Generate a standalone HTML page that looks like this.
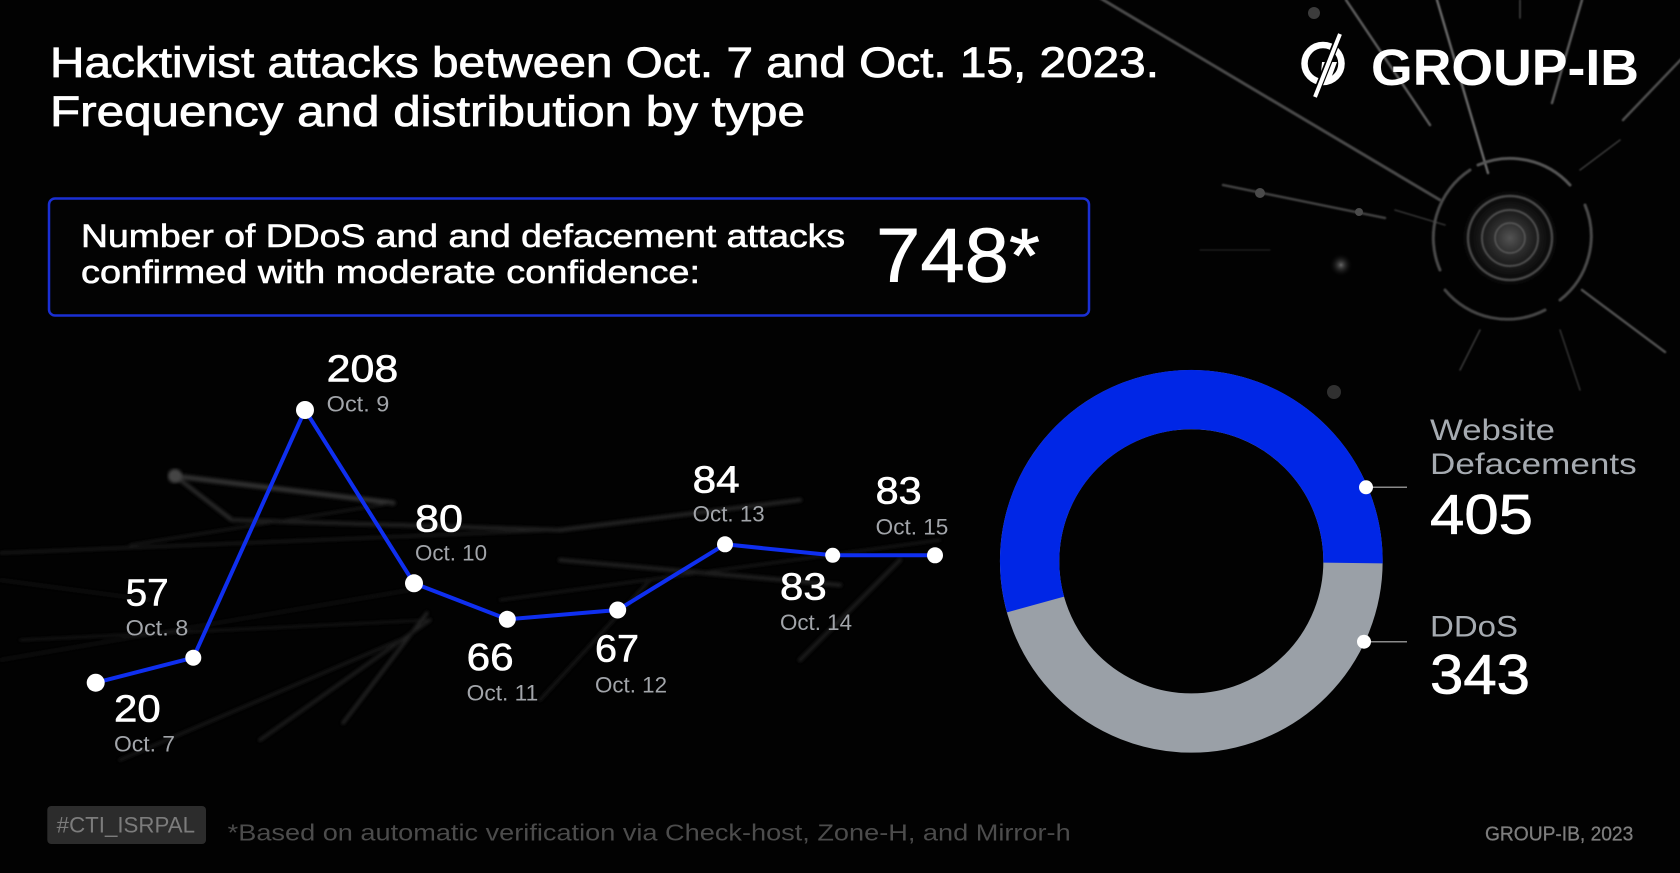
<!DOCTYPE html>
<html>
<head>
<meta charset="utf-8">
<style>
html,body{margin:0;padding:0;background:#000;}
body{width:1680px;height:873px;overflow:hidden;}
svg{display:block;}
text{font-family:"Liberation Sans","DejaVu Sans",sans-serif;}
</style>
</head>
<body>
<svg width="1680" height="873" viewBox="0 0 1680 873" xmlns="http://www.w3.org/2000/svg">
  <defs>
    <radialGradient id="glow" cx="50%" cy="50%" r="50%">
      <stop offset="0" stop-color="#8a8a8a" stop-opacity="0.6"/>
      <stop offset="0.5" stop-color="#4a4a4a" stop-opacity="0.3"/>
      <stop offset="1" stop-color="#000" stop-opacity="0"/>
    </radialGradient>
    <radialGradient id="dotglow" cx="50%" cy="50%" r="50%">
      <stop offset="0" stop-color="#666"/>
      <stop offset="1" stop-color="#000" stop-opacity="0"/>
    </radialGradient>
    <filter id="blur" x="-10%" y="-10%" width="120%" height="120%">
      <feGaussianBlur stdDeviation="1.6"/>
    </filter>
    <filter id="blur2" x="-10%" y="-10%" width="120%" height="120%">
      <feGaussianBlur stdDeviation="0.8"/>
    </filter>
  </defs>
  <rect width="1680" height="873" fill="#020202"/>

  <!-- background rays top-right -->
  <g stroke-linecap="round" fill="none" filter="url(#blur2)">
    <line x1="1100" y1="-2" x2="1440" y2="200" stroke="#4a4a4a" stroke-width="3"/>
    <line x1="1346" y1="0" x2="1430" y2="125" stroke="#5a5a5a" stroke-width="2.5"/>
    <line x1="1437" y1="0" x2="1488" y2="173" stroke="#666" stroke-width="2.5"/>
    <line x1="1582" y1="0" x2="1552" y2="103" stroke="#5a5a5a" stroke-width="2.5"/>
    <line x1="1520" y1="0" x2="1520" y2="18" stroke="#444" stroke-width="1.5"/>
    <line x1="1690" y1="50" x2="1623" y2="120" stroke="#505050" stroke-width="2.5"/>
    <line x1="1582" y1="290" x2="1665" y2="352" stroke="#505050" stroke-width="2.5"/>
    <line x1="1223" y1="185" x2="1385" y2="218" stroke="#404040" stroke-width="2.5"/>
    <line x1="1395" y1="210" x2="1445" y2="225" stroke="#333" stroke-width="1.5"/>
    <line x1="1200" y1="250" x2="1270" y2="250" stroke="#2a2a2a" stroke-width="1"/>
    <line x1="1480" y1="330" x2="1460" y2="370" stroke="#3a3a3a" stroke-width="1.5"/>
    <line x1="1560" y1="330" x2="1580" y2="390" stroke="#333" stroke-width="1.5"/>
    <line x1="1580" y1="170" x2="1620" y2="140" stroke="#3a3a3a" stroke-width="1.5"/>
  </g>
  <circle cx="1260" cy="193" r="5" fill="#4a4a4a"/>
  <circle cx="1359" cy="212" r="4" fill="#4a4a4a"/>
  <circle cx="1314" cy="13" r="6" fill="#3c3c3c"/>
  <circle cx="1341" cy="265" r="12" fill="url(#dotglow)"/>
  <circle cx="1334" cy="392" r="7" fill="#303030"/>
  <!-- rings -->
  <g fill="none" stroke-linecap="round" filter="url(#blur2)">
    <circle cx="1510" cy="238" r="60" fill="url(#glow)" stroke="none"/>
    <path d="M1440 270 A81 81 0 0 1 1470 170" stroke="#4a4a4a" stroke-width="3"/>
    <path d="M1478 165 A81 81 0 0 1 1570 185" stroke="#555" stroke-width="3"/>
    <path d="M1585 205 A81 81 0 0 1 1560 300" stroke="#4a4a4a" stroke-width="3"/>
    <path d="M1545 310 A81 81 0 0 1 1445 290" stroke="#444" stroke-width="3"/>
    <circle cx="1510" cy="238" r="42" stroke="#4a4a4a" stroke-width="2.5"/>
    <circle cx="1510" cy="238" r="28" stroke="#505050" stroke-width="2"/>
    <circle cx="1510" cy="238" r="15" stroke="#5a5a5a" stroke-width="1.5"/>
  </g>

  <!-- background network lines bottom-left -->
  <g stroke-linecap="round" fill="none" filter="url(#blur)" opacity="0.85">
    <line x1="0" y1="553" x2="560" y2="530" stroke="#262626" stroke-width="2"/>
    <line x1="175" y1="476" x2="393" y2="503" stroke="#3a3a3a" stroke-width="5"/>
    <line x1="175" y1="476" x2="232" y2="520" stroke="#333" stroke-width="4"/>
    <line x1="232" y1="520" x2="560" y2="530" stroke="#282828" stroke-width="4"/>
    <line x1="130" y1="545" x2="393" y2="503" stroke="#222" stroke-width="2"/>
    <line x1="20" y1="640" x2="430" y2="620" stroke="#262626" stroke-width="1.5"/>
    <line x1="0" y1="660" x2="410" y2="590" stroke="#202020" stroke-width="1.5"/>
    <line x1="427" y1="613" x2="343" y2="723" stroke="#2e2e2e" stroke-width="3"/>
    <line x1="430" y1="620" x2="260" y2="740" stroke="#262626" stroke-width="3"/>
    <line x1="400" y1="640" x2="120" y2="760" stroke="#1e1e1e" stroke-width="3"/>
    <line x1="560" y1="530" x2="800" y2="500" stroke="#2a2a2a" stroke-width="4"/>
    <line x1="560" y1="560" x2="840" y2="585" stroke="#262626" stroke-width="4"/>
    <line x1="500" y1="600" x2="940" y2="540" stroke="#222" stroke-width="2"/>
    <line x1="900" y1="560" x2="800" y2="660" stroke="#222" stroke-width="4"/>
    <line x1="650" y1="580" x2="540" y2="700" stroke="#1e1e1e" stroke-width="3"/>
    <line x1="0" y1="580" x2="150" y2="600" stroke="#1c1c1c" stroke-width="2"/>
  </g>
  <circle cx="175" cy="476" r="7" fill="#444" filter="url(#blur)"/>

  <!-- Title -->
  <g fill="#ffffff" stroke="#ffffff" stroke-width="0.8">
    <text x="50" y="77" font-size="43" textLength="1109" lengthAdjust="spacingAndGlyphs">Hacktivist attacks between Oct. 7 and Oct. 15, 2023.</text>
    <text x="50" y="126" font-size="43" textLength="755" lengthAdjust="spacingAndGlyphs">Frequency and distribution by type</text>
  </g>

  <!-- Logo -->
  <g>
    <circle cx="1323" cy="63.5" r="18.5" fill="none" stroke="#fff" stroke-width="6.5"/>
    <path d="M1322 62 L1337 62 L1329 84 L1320 84 Z" fill="#fff"/>
    <line x1="1339" y1="36" x2="1315" y2="96" stroke="#000" stroke-width="7"/>
    <line x1="1340" y1="34" x2="1315" y2="97" stroke="#fff" stroke-width="4"/>
    <text x="1371" y="85" font-size="51" font-weight="bold" fill="#fff" textLength="268" lengthAdjust="spacingAndGlyphs">GROUP-IB</text>
  </g>

  <!-- Summary box -->
  <rect x="49" y="198.5" width="1040" height="117" rx="6" ry="6" fill="#030303" stroke="#1a2fd4" stroke-width="2.5"/>
  <g fill="#fff" stroke="#fff" stroke-width="0.6">
    <text x="81" y="247" font-size="32" textLength="764" lengthAdjust="spacingAndGlyphs">Number of DDoS and and defacement attacks</text>
    <text x="81" y="283" font-size="32" textLength="619" lengthAdjust="spacingAndGlyphs">confirmed with moderate confidence:</text>
    <text x="876" y="282" font-size="77" textLength="164" lengthAdjust="spacingAndGlyphs">748*</text>
  </g>

  <!-- Line chart -->
  <polyline points="95.7,682.7 193.3,657.7 305,410 414,583.3 507.3,619.3 617.7,610 725,544.3 832.7,555.3 935,555.3"
            fill="none" stroke="#0f2ff0" stroke-width="4" stroke-linejoin="round"/>
  <g fill="#fff">
    <circle cx="95.7" cy="682.7" r="9"/>
    <circle cx="193.3" cy="657.7" r="8"/>
    <circle cx="305" cy="410" r="9"/>
    <circle cx="414" cy="583.3" r="9"/>
    <circle cx="507.3" cy="619.3" r="8.5"/>
    <circle cx="617.7" cy="610" r="8.5"/>
    <circle cx="725" cy="544.3" r="8"/>
    <circle cx="832.7" cy="555.3" r="7.5"/>
    <circle cx="935" cy="555.3" r="8"/>
  </g>
  <g fill="#fff" stroke="#fff" stroke-width="0.6" font-size="38">
    <text x="326.7" y="381.7" textLength="71.6" lengthAdjust="spacingAndGlyphs">208</text>
    <text x="415" y="531.7" textLength="48" lengthAdjust="spacingAndGlyphs">80</text>
    <text x="125.7" y="605.7" textLength="43" lengthAdjust="spacingAndGlyphs">57</text>
    <text x="114" y="721.7" textLength="46.7" lengthAdjust="spacingAndGlyphs">20</text>
    <text x="466.7" y="670" textLength="47" lengthAdjust="spacingAndGlyphs">66</text>
    <text x="595" y="661.7" textLength="44" lengthAdjust="spacingAndGlyphs">67</text>
    <text x="692.7" y="492.7" textLength="47" lengthAdjust="spacingAndGlyphs">84</text>
    <text x="780" y="599.3" textLength="46.7" lengthAdjust="spacingAndGlyphs">83</text>
    <text x="875.7" y="503.3" textLength="46" lengthAdjust="spacingAndGlyphs">83</text>
  </g>
  <g fill="#a2a5aa" font-size="22">
    <text x="326.7" y="411.7" textLength="62.6" lengthAdjust="spacingAndGlyphs">Oct. 9</text>
    <text x="415" y="560.7" textLength="72" lengthAdjust="spacingAndGlyphs">Oct. 10</text>
    <text x="125.7" y="635.7" textLength="62.6" lengthAdjust="spacingAndGlyphs">Oct. 8</text>
    <text x="114" y="751.7" textLength="61" lengthAdjust="spacingAndGlyphs">Oct. 7</text>
    <text x="466.7" y="700.7" textLength="71.6" lengthAdjust="spacingAndGlyphs">Oct. 11</text>
    <text x="595" y="692.3" textLength="72" lengthAdjust="spacingAndGlyphs">Oct. 12</text>
    <text x="692.7" y="521.7" textLength="72" lengthAdjust="spacingAndGlyphs">Oct. 13</text>
    <text x="780" y="630" textLength="72" lengthAdjust="spacingAndGlyphs">Oct. 14</text>
    <text x="875.7" y="534.3" textLength="72.6" lengthAdjust="spacingAndGlyphs">Oct. 15</text>
  </g>

  <!-- Donut -->
  <circle cx="1191.3" cy="561.3" r="161.7" fill="none" stroke="#9aa0a7" stroke-width="59.3"/>
  <path d="M1353 563 A161.7 161.7 0 1 0 1035.5 604.5" fill="none" stroke="#0026e6" stroke-width="59.3"/>
  <line x1="1366" y1="487.3" x2="1407" y2="487.3" stroke="#8a8a8a" stroke-width="1.5"/>
  <line x1="1364" y1="641.7" x2="1407" y2="641.7" stroke="#8a8a8a" stroke-width="1.5"/>
  <circle cx="1366" cy="487.3" r="7" fill="#fff"/>
  <circle cx="1364" cy="641.7" r="7" fill="#fff"/>

  <!-- Donut legend -->
  <g fill="#a6abb1" font-size="30">
    <text x="1430" y="440" textLength="125" lengthAdjust="spacingAndGlyphs">Website</text>
    <text x="1430" y="474" textLength="206.7" lengthAdjust="spacingAndGlyphs">Defacements</text>
    <text x="1430" y="636.7" textLength="88" lengthAdjust="spacingAndGlyphs">DDoS</text>
  </g>
  <g fill="#fff" stroke="#fff" stroke-width="0.7" font-size="56">
    <text x="1430" y="533.3" textLength="103" lengthAdjust="spacingAndGlyphs">405</text>
    <text x="1430" y="693.3" textLength="100" lengthAdjust="spacingAndGlyphs">343</text>
  </g>

  <!-- Footer -->
  <rect x="47.3" y="806" width="158.7" height="38" rx="4" ry="4" fill="#2c2c2c"/>
  <text x="56.7" y="832.3" font-size="22" fill="#7c7c7c" textLength="138.3" lengthAdjust="spacingAndGlyphs">#CTI_ISRPAL</text>
  <text x="227.7" y="840.7" font-size="23" fill="#4c4c4c" textLength="843" lengthAdjust="spacingAndGlyphs">*Based on automatic verification via Check-host, Zone-H, and Mirror-h</text>
  <text x="1485" y="840.7" font-size="20" fill="#7d7d7d" stroke="#7d7d7d" stroke-width="0.3" textLength="148.3" lengthAdjust="spacingAndGlyphs">GROUP-IB, 2023</text>
</svg>
</body>
</html>
